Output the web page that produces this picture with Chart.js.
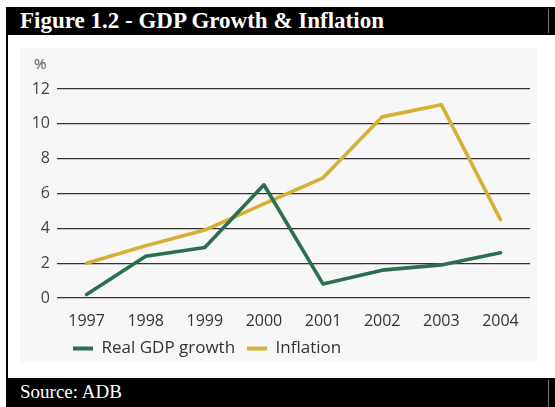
<!DOCTYPE html>
<html>
<head>
<meta charset="utf-8">
<script src="https://cdn.jsdelivr.net/npm/chart.js@4"></script>
<style>
  html, body { margin: 0; padding: 0; background: #ffffff; }
  #page { position: relative; width: 555px; height: 407px; overflow: hidden; background: #fff; }
  #titlebar { position: absolute; left: 6px; top: 7px; width: 549px; height: 28px; background: #000;
    color: #fff; font-family: "Liberation Serif", "Times New Roman", serif; font-weight: bold; font-size: 23px;
    line-height: 28px; padding-left: 14px; box-sizing: border-box; white-space: nowrap; }
  #srcbar { position: absolute; left: 6px; top: 378px; width: 549px; height: 29px; background: #000;
    color: #fff; font-family: "Liberation Serif", "Times New Roman", serif; font-size: 19px;
    line-height: 27px; padding-left: 14px; box-sizing: border-box; white-space: nowrap; }
  .vsep { position: absolute; left: 548px; width: 1px; background: #777; }
  #leftborder { position: absolute; left: 6px; top: 7px; width: 2px; height: 400px; background: #000; }
  #panel { position: absolute; left: 20px; top: 48px; width: 517px; height: 314px; background: #f7f7f7; }
  #pct { position: absolute; left: 34px; top: 53px; font-family: "Open Sans", sans-serif; font-size: 15px; color: #555; }
  #wrap { position: absolute; left: 20px; top: 48px; width: 517px; height: 322px; }
</style>
</head>
<body>
<div id="page">
  <div id="panel"></div>
  <div id="titlebar">Figure 1.2 - GDP Growth &amp; Inflation</div>
  <div class="vsep" style="top:9px;height:24px;"></div>
  <div id="leftborder"></div>
  <div id="pct">%</div>
  <div id="wrap"><canvas id="c" width="517" height="322"></canvas></div>
  <div id="srcbar">Source: ADB</div>
  <div class="vsep" style="top:380px;height:27px;"></div>
</div>
<script>
const years = ["1997", "1998", "1999", "2000", "2001", "2002", "2003", "2004"];
const realGdpGrowth = [0.2, 2.4, 2.9, 6.5, 0.8, 1.6, 1.9, 2.6];
const inflation = [2.0, 3.0, 3.9, 5.4, 6.9, 10.4, 11.1, 4.5];
const seriesNames = ["Real GDP growth", "Inflation"];
const yTicks = [0, 2, 4, 6, 8, 10, 12];

const FONT = "'Open Sans', 'Noto Sans', sans-serif";

const legendShift = {
  id: 'legendShift',
  afterLayout(chart) {
    if (chart.legend) { chart.legend.left = 41; chart.legend.top -= 3; }
  }
};

new Chart(document.getElementById('c'), {
  type: 'line',
  data: {
    labels: years,
    datasets: [
      { label: seriesNames[0], data: realGdpGrowth, borderColor: '#2b6f4f', backgroundColor: '#2b6f4f',
        borderWidth: 3.6, pointRadius: 0, tension: 0, borderJoinStyle: 'round', borderCapStyle: 'round' },
      { label: seriesNames[1], data: inflation, borderColor: '#d5b035', backgroundColor: '#d5b035',
        borderWidth: 3.6, pointRadius: 0, tension: 0, borderJoinStyle: 'round', borderCapStyle: 'round' }
    ]
  },
  options: {
    responsive: false,
    animation: false,
    devicePixelRatio: 1,
    layout: { padding: { top: 41, right: 7, left: 0, bottom: 0 } },
    plugins: {
      legend: {
        position: 'bottom',
        align: 'start',
        labels: {
          boxWidth: 20, boxHeight: 4, padding: 12,
          color: '#333',
          font: { family: FONT, size: 17 },
          generateLabels(chart) {
            return chart.data.datasets.map((d, i) => ({
              text: d.label, fillStyle: d.borderColor, strokeStyle: d.borderColor,
              lineWidth: 0, hidden: false, datasetIndex: i, fontColor: '#333'
            }));
          }
        }
      },
      tooltip: { enabled: false },
      title: { display: false }
    },
    scales: {
      x: {
        offset: true,
        afterFit(scale) { scale.height = 33; },
        grid: { display: false, drawTicks: false },
        border: { display: false },
        ticks: { color: '#333', font: { family: FONT, size: 16 }, padding: 14, maxRotation: 0 }
      },
      y: {
        min: 0, max: 12,
        afterBuildTicks(scale) { scale.ticks = yTicks.map(v => ({ value: v })); },
        afterFit(scale) { scale.width = 37; },
        grid: { color: '#333', lineWidth: 1.3, drawTicks: false },
        border: { display: false },
        ticks: { color: '#444', font: { family: FONT, size: 16 }, padding: 7 }
      }
    }
  },
  plugins: [legendShift]
});
</script>
</body>
</html>
